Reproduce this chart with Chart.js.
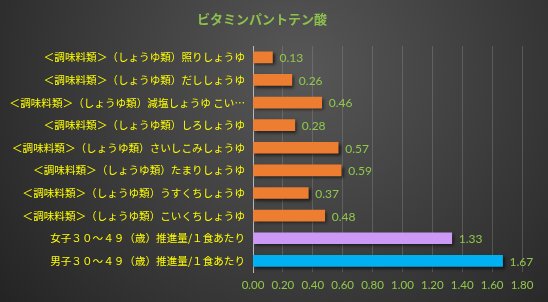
<!DOCTYPE html>
<html lang="ja">
<head>
  <meta charset="UTF-8">
  <title>ビタミンパントテン酸</title>
  <script src="https://cdn.jsdelivr.net/npm/chart.js"></script>
  <style>
    html, body { margin: 0; padding: 0; background: #2a2a2a; }
    #wrap { width: 548px; height: 302px; }
  </style>
</head>
<body>
  <div id="wrap"><canvas id="chart" width="548" height="302"></canvas></div>
  <script>
    // 品目（上から順）
    const labels = [
      '＜調味料類＞（しょうゆ類）照りしょうゆ',
      '＜調味料類＞（しょうゆ類）だししょうゆ',
      '＜調味料類＞（しょうゆ類）減塩しょうゆ こい…',
      '＜調味料類＞（しょうゆ類）しろしょうゆ',
      '＜調味料類＞（しょうゆ類）さいしこみしょうゆ',
      '＜調味料類＞（しょうゆ類）たまりしょうゆ',
      '＜調味料類＞（しょうゆ類）うすくちしょうゆ',
      '＜調味料類＞（しょうゆ類）こいくちしょうゆ',
      '女子３０～４９（歳）推進量/１食あたり',
      '男子３０～４９（歳）推進量/１食あたり'
    ];
    // パントテン酸 (mg)
    const values = [0.13, 0.26, 0.46, 0.28, 0.57, 0.59, 0.37, 0.48, 1.33, 1.67];
    const xTicks = [0, 0.2, 0.4, 0.6, 0.8, 1.0, 1.2, 1.4, 1.6, 1.8];

    const ORANGE = '#ED7D31';
    const barColors = labels.map(l => {
      if (l.startsWith('女子')) return '#CC99F5';
      if (l.startsWith('男子')) return '#00B0F0';
      return ORANGE;
    });

    const JP = '"Noto Sans CJK JP", "Noto Sans", sans-serif';
    const NUM = 'Lato, "Open Sans", sans-serif';

    // 背景のグラデーション・タイトル・値ラベル
    const bgPlugin = {
      id: 'bg',
      beforeDraw(chart) {
        const c = chart.ctx;
        const g = c.createRadialGradient(300, 70, 10, 300, 70, 420);
        g.addColorStop(0, '#565656');
        g.addColorStop(1, '#1e1e1e');
        c.save();
        c.fillStyle = g;
        c.fillRect(0, 0, chart.width, chart.height);
        c.font = 'bold 13px ' + JP;
        c.fillStyle = '#8DC04E';
        c.textAlign = 'center';
        c.textBaseline = 'middle';
        c.fillText('ビタミンパントテン酸', 262, 19);
        c.restore();
      },
      beforeDatasetsDraw(chart) {
        const c = chart.ctx;
        c.save();
        c.shadowColor = 'rgba(0,0,0,0.6)';
        c.shadowOffsetX = 2;
        c.shadowOffsetY = 2;
        c.shadowBlur = 3;
      },
      afterDatasetsDraw(chart) {
        const c = chart.ctx;
        c.restore();
        const meta = chart.getDatasetMeta(0);
        c.save();
        c.font = '12px ' + NUM;
        c.fillStyle = '#92C84A';
        c.textAlign = 'left';
        c.textBaseline = 'middle';
        meta.data.forEach((bar, i) => {
          c.fillText(values[i].toFixed(2), bar.x + 7, bar.y + 1);
        });
        c.restore();
      }
    };

    new Chart(document.getElementById('chart'), {
      type: 'bar',
      data: {
        labels: labels,
        datasets: [{
          data: values,
          backgroundColor: barColors,
          borderWidth: 0,
          barThickness: 11
        }]
      },
      options: {
        indexAxis: 'y',
        responsive: false,
        animation: false,
        layout: { padding: { top: 46, right: 26, bottom: 4, left: 0 } },
        plugins: {
          legend: { display: false },
          tooltip: { enabled: false },
          title: { display: false }
        },
        scales: {
          x: {
            min: 0,
            max: 1.8,
            afterBuildTicks(scale) {
              scale.ticks = xTicks.map(v => ({ value: v }));
            },
            grid: { color: 'rgba(150,150,150,0.35)', drawTicks: false },
            border: { display: false },
            ticks: {
              color: '#92C84A',
              font: { family: NUM, size: 11.5 },
              padding: 6,
              callback: v => Number(v).toFixed(2)
            }
          },
          y: {
            afterFit(scale) { scale.width = 253; },
            grid: { display: false, drawTicks: false },
            border: { display: true, color: '#b8b8b8', width: 1 },
            ticks: {
              color: '#FFFF00',
              font: { family: JP, size: 10.6 },
              padding: 8
            }
          }
        }
      },
      plugins: [bgPlugin]
    });
  </script>
</body>
</html>
